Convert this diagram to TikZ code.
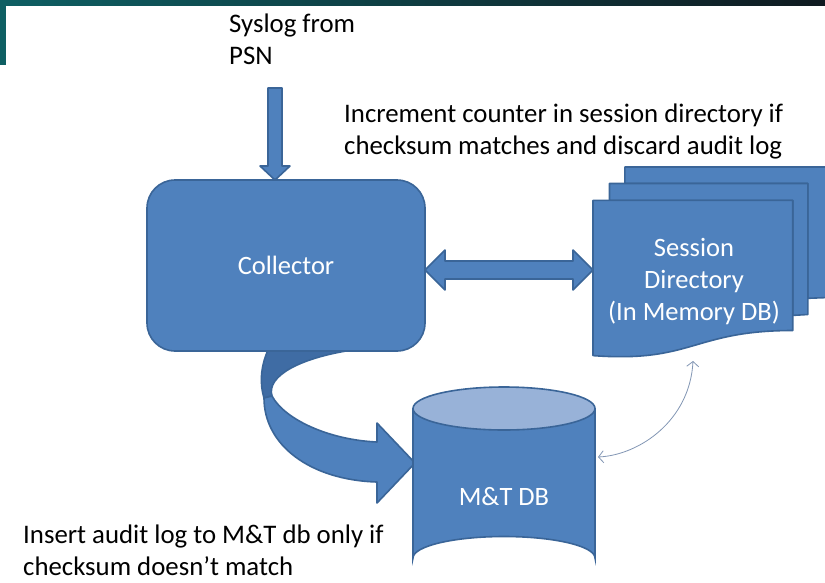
\documentclass[tikz,border=0pt]{standalone}
\usepackage{fontspec}
\setmainfont{Carlito}
\usetikzlibrary{arrows.meta,calc}
\definecolor{boxfill}{HTML}{4F81BD}
\definecolor{boxline}{HTML}{3A6598}
\definecolor{foldfill}{HTML}{3F6CA4}
\definecolor{cyltop}{HTML}{98B2D8}
\definecolor{linkgray}{HTML}{8296B4}
\definecolor{spaceteal}{HTML}{0E5F63}
\definecolor{spacedark}{HTML}{0F1A20}
\begin{document}
\begin{tikzpicture}[x=1pt,y=-1pt,
  shape3d/.style={fill=boxfill, draw=boxline, line width=1.6pt, line join=round},
  foldpart/.style={fill=foldfill, draw=boxline, line width=1.6pt, line join=round},
  txt/.style={font=\fontsize{26.8}{32}\selectfont, inner sep=0pt, align=left, anchor=base west},
  boxtxt/.style={font=\fontsize{26.5}{32}\selectfont, text=white, inner sep=0pt, align=center},
  link/.style={draw=linkgray, line width=0.8pt,
    {Straight Barb[length=5pt,width=12pt]}-{Straight Barb[length=5pt,width=12pt]}},
]
\useasboundingbox (0,0) rectangle (825,582);
\fill[white] (0,0) rectangle (825,582);
% dark backdrop frame along the top and left edges
\shade[left color=spaceteal, right color=spacedark] (0,0) rectangle (825,5);
\fill[spaceteal] (0,0) rectangle (6,65);

% labels (anchored at the baseline of their last line)
\node[txt] (syslog) at (229,64) {Syslog from\\PSN};
\node[txt] (incr) at (344,154) {Increment counter in session directory if\\checksum matches and discard audit log};
\node[txt] (insert) at (23,575) {Insert audit log to M\&T db only if\\checksum doesn't match};

% curved block arrow from the collector down into the M&T database
\draw[foldpart] (268,340) -- (268,350) .. controls (260,368) and (260,385) .. (264,398)
  -- (272,396) .. controls (266,376) and (300,358) .. (352,350) -- (352,340) -- cycle;
\draw[shape3d] (264,398) .. controls (264,445) and (310,480) .. (377,482)
  -- (377,503) -- (415,463) -- (377,423) -- (377,442)
  .. controls (330,440) and (285,420) .. (272,396) -- cycle;

% collector
\node[shape3d, rounded corners=28pt, minimum width=278pt, minimum height=171pt,
  inner sep=0pt, boxtxt] (collector) at (286,265.5) {Collector};

% incoming syslog arrow
\coordinate (sysin) at (275,88);
\coordinate (systip) at (275,180);
\draw[shape3d] ($(sysin)+(-7,0)$) -- ($(sysin)+(7,0)$) -- ($(systip)+(7,-14)$)
  -- ($(systip)+(15,-14)$) -- (systip) -- ($(systip)+(-15,-14)$) -- ($(systip)+(-7,-14)$) -- cycle;

% session directory: stacked documents
\draw[shape3d] (624.9,183.5) -- (624.9,167) -- (826,167) -- (826,297.6)
  -- (807.8,298.3) -- (807.8,183.5) -- cycle;
\draw[shape3d] (609.5,200.3) -- (609.5,183.5) -- (807.8,183.5) -- (807.8,314.5)
  -- (792.7,315.4) -- (792.7,200.3) -- cycle;
\draw[shape3d] (593,200.3) -- (792.7,200.3) -- (792.7,330.5)
  .. controls (692.9,330.5) and (692.9,363) .. (593,355.6) -- cycle;
\node[boxtxt] (session) at (694,282) {Session\\Directory\\(In Memory DB)};

% two-way block arrow between collector and session directory
\coordinate (dA) at (425,270);
\coordinate (dB) at (593,270);
\draw[shape3d] (dA) -- ($(dA)+(20,-20)$) -- ($(dA)+(20,-9)$) -- ($(dB)+(-20,-9)$)
  -- ($(dB)+(-20,-20)$) -- (dB) -- ($(dB)+(-20,20)$) -- ($(dB)+(-20,9)$)
  -- ($(dA)+(20,9)$) -- ($(dA)+(20,20)$) -- cycle;

% M&T database cylinder
\fill[boxfill] (413,408.5) -- (413,558) arc[start angle=180, end angle=360, x radius=91, y radius=21.5]
  -- (595,408.5) -- cycle;
\draw[boxline, line width=1.6pt] (413,408.5) -- (413,558)
  arc[start angle=180, end angle=360, x radius=91, y radius=21.5] -- (595,408.5);
\draw[boxline, line width=1.6pt, fill=cyltop] (504,408.5) ellipse[x radius=91, y radius=21.5];
\node[boxtxt] (mtdb) at (504,497) {M\&T DB};

% thin link between session directory and database
\coordinate (linkA) at (693,361);
\coordinate (linkB) at (598,457);
\draw[link] (linkA) .. controls (690,420) and (640,455) .. (linkB);
\end{tikzpicture}
\end{document}
